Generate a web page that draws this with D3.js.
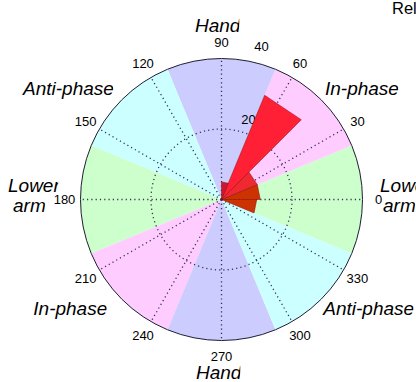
<!DOCTYPE html>
<html><head><meta charset="utf-8">
<script src="https://cdn.jsdelivr.net/npm/d3@7"></script>
<style>html,body{margin:0;padding:0;background:#fff;overflow:hidden}</style>
</head><body><svg id="chart" width="416" height="382"></svg>
<script>
// ---------- data ----------
const binStartDeg = [0,22.5,45,67.5,90,112.5,135,157.5,180,202.5,225,247.5,270,292.5,315,337.5];
const binCounts   = [11,11,32,5,0,0,0,0,0,0,0,0,0,0,0,10];
const binWidthDeg = 22.5;
const sectorNames = ["Lower arm","In-phase","Hand","Anti-phase","Lower arm","In-phase","Hand","Anti-phase"];
const sectorCenterDeg = [0,45,90,135,180,225,270,315];
const sectorHalfWidthDeg = 22.5;
const angleTicks = [0,30,60,90,120,150,180,210,240,270,300,330];
const ringTicks = [20,40];
const titleText = "Relative phase";

// ---------- styles / layout ----------
const W = 416, H = 382;
const cx = 221.5, cy = 199.5, R = 141;
const FONT = "'Liberation Sans', Arial, Helvetica, sans-serif";
const sectorColor = {"Lower arm":"#ccffcc","In-phase":"#ffccff","Hand":"#ccccff","Anti-phase":"#ccffff"};
const binColor = {0:"#cc3300",1:"#ee2a30",2:"#ff2035",3:"#cc1830",15:"#cc3300"};
const labelLayout = [ // [sector index, lines as [text,x,y,clipInset]]
  [2, [["Hand",195,32,2.6]]],
  [1, [["In-phase",325,95,0.5]]],
  [3, [["Anti-phase",23,95,0.5]]],
  [4, [["Lower",8,192,2.2],["arm",13,211.6,0.5]]],
  [0, [["Lower",380,192,2.2],["arm",383,211.6,0.5]]],
  [5, [["In-phase",33.3,315,0.5]]],
  [7, [["Anti-phase",323.3,315,0.5]]],
  [6, [["Hand",196,378.6,2.6]]]
];

const svg = d3.select("#chart");
svg.append("rect").attr("width",W).attr("height",H).attr("fill","#fff");
const rScale = d3.scaleLinear().domain([0, d3.max(ringTicks)]).range([0, R]);
const rad = d => d * Math.PI / 180;
const px = (deg, r) => r * Math.cos(rad(deg));
const py = (deg, r) => -r * Math.sin(rad(deg));

const g = svg.append("g").attr("transform", `translate(${cx},${cy})`);

// background sectors
const arc = d3.arc().innerRadius(0).outerRadius(rScale(d3.max(ringTicks)));
g.selectAll("path.sector").data(sectorCenterDeg.map((c,i)=>({c, name: sectorNames[i]})))
  .join("path").attr("class","sector")
  .attr("d", d => arc({startAngle: rad(90 - (d.c + sectorHalfWidthDeg)), endAngle: rad(90 - (d.c - sectorHalfWidthDeg))}))
  .attr("fill", d => sectorColor[d.name]).attr("stroke","none");

// spokes
const dotted = {stroke:"#33335a", "stroke-width":1.3, "stroke-dasharray":"1.2,3.1"};
g.selectAll("line.spoke").data(angleTicks).join("line").attr("class","spoke")
  .attr("x1",0).attr("y1",0)
  .attr("x2", d => px(d, rScale(d3.max(ringTicks))))
  .attr("y2", d => py(d, rScale(d3.max(ringTicks))))
  .attr("stroke",dotted.stroke).attr("stroke-width",dotted["stroke-width"]).attr("stroke-dasharray",dotted["stroke-dasharray"]);

// inner dotted rings
g.selectAll("circle.ring").data(ringTicks.slice(0,-1)).join("circle").attr("class","ring")
  .attr("r", d => rScale(d)).attr("fill","none")
  .attr("stroke",dotted.stroke).attr("stroke-width",dotted["stroke-width"]).attr("stroke-dasharray",dotted["stroke-dasharray"]);

// outer circle
g.append("circle").attr("r", rScale(d3.max(ringTicks))).attr("fill","none").attr("stroke","#1e1e33").attr("stroke-width",1);

// ring labels
g.selectAll("text.rlab").data(ringTicks).join("text").attr("class","rlab")
  .attr("x", d => px(80, rScale(d)*1.05) + 7)
  .attr("y", d => py(80, rScale(d)*1.05) - 2.5)
  .attr("font-family",FONT).attr("font-size",13).attr("fill","#000")
  .text(d => d);

// angle tick labels
const rLab = R + 16;
g.selectAll("text.alab").data(angleTicks).join("text").attr("class","alab")
  .attr("x", d => px(d, rLab)).attr("y", d => py(d, rLab))
  .attr("dy","0.36em").attr("text-anchor","middle")
  .attr("font-family",FONT).attr("font-size",13).attr("fill","#000")
  .text(d => d);

// rose bars (triangular wedges)
const bars = binStartDeg.map((s,i)=>({s, e: s + binWidthDeg, v: binCounts[i], i})).filter(d => d.v > 0);
g.selectAll("path.bar").data(bars).join("path").attr("class","bar")
  .attr("d", d => {
    const r = rScale(d.v);
    return `M0,0L${px(d.s,r)},${py(d.s,r)}L${px(d.e,r)},${py(d.e,r)}Z`;
  })
  .attr("fill", d => binColor[d.i]).attr("stroke","#8a0a0a").attr("stroke-width",0.5);

// sector labels (italic, clipped like the original)
const defs = svg.append("defs");
let clipId = 0;
labelLayout.forEach(([si, lines]) => {
  lines.forEach(([txt,x,y,inset]) => {
    const t = svg.append("text").attr("x",x).attr("y",y)
      .attr("font-family",FONT).attr("font-size",19).attr("font-style","italic").attr("fill","#000")
      .text(txt);
    const bb = t.node().getBBox();
    const id = "clip" + (clipId++);
    defs.append("clipPath").attr("id",id).append("rect")
      .attr("x", bb.x - 6).attr("y", bb.y - 4).attr("width", bb.width + 6 - inset).attr("height", bb.height + 8);
    t.attr("clip-path", `url(#${id})`).attr("data-sector", sectorNames[si]);
  });
});

// title (cut off at the right edge as in the reference)
svg.append("text").attr("x",392).attr("y",13.5)
  .attr("font-family",FONT).attr("font-size",16.5).attr("fill","#000").text(titleText);
</script></body></html>
